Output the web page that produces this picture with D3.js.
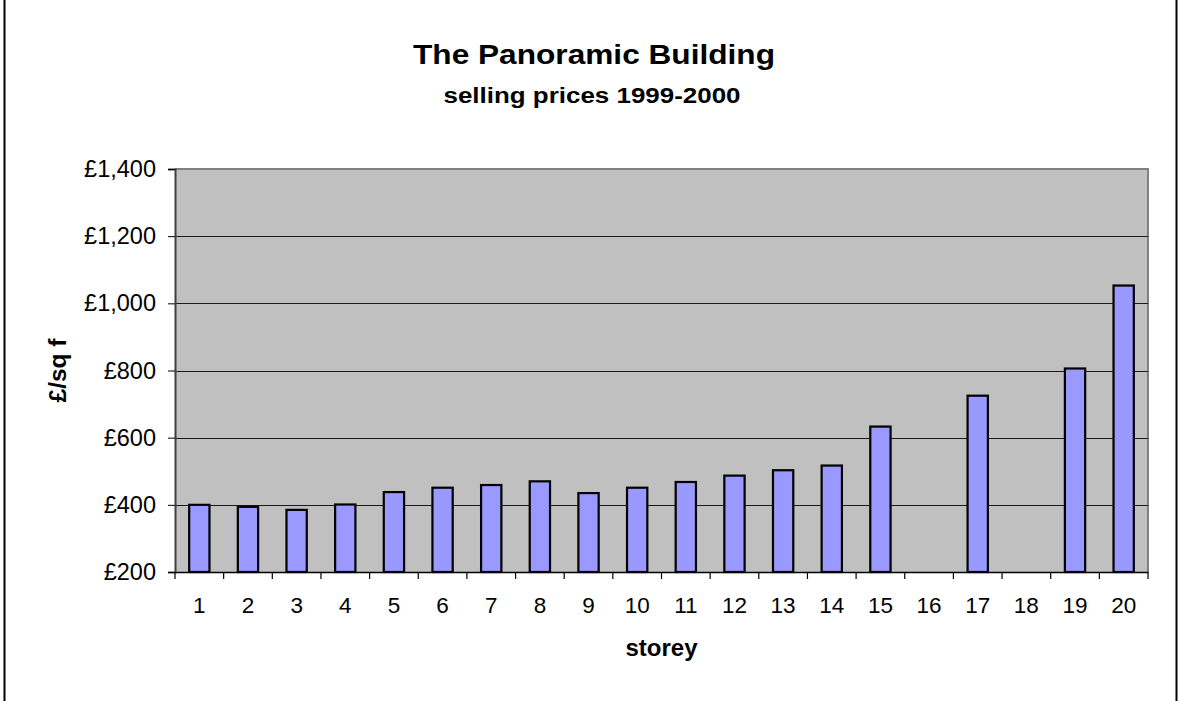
<!DOCTYPE html>
<html><head><meta charset="utf-8">
<script src="https://cdn.jsdelivr.net/npm/d3@7"></script>
<style>html,body{margin:0;padding:0;background:#fff;}svg{display:block;}</style>
</head><body>
<script>
const categories = ["1","2","3","4","5","6","7","8","9","10","11","12","13","14","15","16","17","18","19","20"];
const prices = [400, 394, 385, 401, 438, 451, 459, 470, 435, 451, 468, 487, 503, 517, 633, null, 725, null, 806, 1053];
const yTicks = [200, 400, 600, 800, 1000, 1200, 1400];
const titleText = "The Panoramic Building";
const subtitleText = "selling prices 1999-2000";
const xTitle = "storey";
const yTitle = "£/sq f";

const W = 1181, H = 701;
const font = "'Liberation Sans', Arial, sans-serif";
const svg = d3.select("body").append("svg").attr("width", W).attr("height", H);

// outer chart border
svg.append("rect").attr("x", 4.5).attr("y", -10).attr("width", 1172).attr("height", H + 20)
  .attr("fill", "#fff").attr("stroke", "#000").attr("stroke-width", 2);

const L = 175, R = 1148, T = 169, B = 572;
const x = d3.scaleBand().domain(categories).range([L, R]).paddingInner(0.583).paddingOuter(0.2915);
const xb = d3.scaleBand().domain(categories).range([L, R]);
const y = d3.scaleLinear().domain([200, 1400]).range([B, T]);

// plot area
svg.append("rect").attr("x", L).attr("y", T).attr("width", R - L).attr("height", B - T)
  .attr("fill", "#C0C0C0");
svg.append("path").attr("d", `M${L},${T}H${R}V${B}`).attr("fill", "none")
  .attr("stroke", "#808080").attr("stroke-width", 2);

// gridlines
svg.append("g").selectAll("line").data(yTicks.filter(t => t > 200 && t < 1400)).join("line")
  .attr("x1", L).attr("x2", R).attr("y1", d => Math.round(y(d)) + 0.5).attr("y2", d => Math.round(y(d)) + 0.5)
  .attr("stroke", "#1a1a1a").attr("stroke-width", 1.2);

// bars
svg.append("g").selectAll("rect").data(categories.map((c, i) => ({c, v: prices[i]})).filter(d => d.v != null)).join("rect")
  .attr("x", d => x(d.c)).attr("width", x.bandwidth())
  .attr("y", d => y(d.v)).attr("height", d => y(200) - y(d.v))
  .attr("fill", "#9999FF").attr("stroke", "#000").attr("stroke-width", 2.2);

// y axis
const yAxis = d3.axisLeft(y).tickValues(yTicks).tickSize(7).tickPadding(12)
  .tickFormat(d => "£" + d3.format(",")(d));
const gy = svg.append("g").attr("transform", `translate(${L},0)`).call(yAxis);
gy.select(".domain").attr("stroke", "#404040").attr("stroke-width", 2);
gy.selectAll(".tick line").attr("stroke", "#000");
gy.selectAll("text").attr("font-family", font).attr("font-size", 23.5).attr("fill", "#000");

// x axis
const xAxis = d3.axisBottom(xb).tickSize(0).tickPadding(25);
const gx = svg.append("g").attr("transform", `translate(0,${B})`).call(xAxis);
gx.select(".domain").attr("stroke", "#000").attr("stroke-width", 1.5);
gx.selectAll("text").attr("font-family", font).attr("font-size", 22.5).attr("fill", "#000");
const bounds = categories.map(c => xb(c)).concat([R]);
gx.append("g").selectAll("line").data(bounds).join("line")
  .attr("x1", d => d).attr("x2", d => d).attr("y1", 0).attr("y2", 7)
  .attr("stroke", "#000").attr("stroke-width", 1.2);

// titles
svg.append("text").attr("x", 594).attr("y", 64).attr("text-anchor", "middle")
  .attr("font-family", font).attr("font-weight", "bold").attr("font-size", 28.5)
  .attr("textLength", 362).attr("lengthAdjust", "spacingAndGlyphs").text(titleText);
svg.append("text").attr("x", 592).attr("y", 103).attr("text-anchor", "middle")
  .attr("font-family", font).attr("font-weight", "bold").attr("font-size", 22.5)
  .attr("textLength", 297).attr("lengthAdjust", "spacingAndGlyphs").text(subtitleText);
svg.append("text").attr("x", (L + R) / 2).attr("y", 656).attr("text-anchor", "middle")
  .attr("font-family", font).attr("font-weight", "bold").attr("font-size", 23)
  .attr("textLength", 72).attr("lengthAdjust", "spacingAndGlyphs").text(xTitle);
svg.append("text").attr("transform", `translate(66,${(T + B) / 2}) rotate(-90)`).attr("text-anchor", "middle")
  .attr("font-family", font).attr("font-weight", "bold").attr("font-size", 23)
  .attr("textLength", 64).attr("lengthAdjust", "spacingAndGlyphs").text(yTitle);
</script>
</body></html>
